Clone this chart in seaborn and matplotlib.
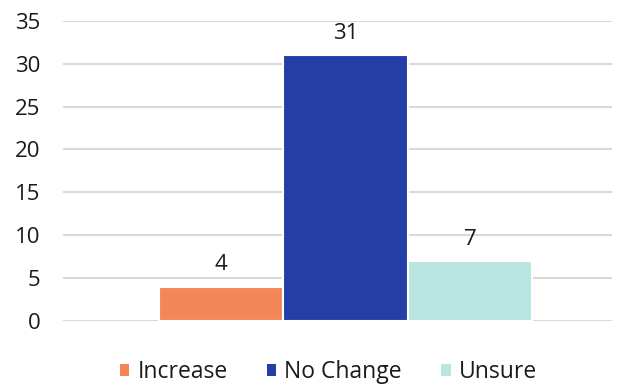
import matplotlib
matplotlib.use("Agg")
import matplotlib.pyplot as plt
import seaborn as sns
import pandas as pd
from matplotlib.patches import Patch

categories = ["Increase", "No Change", "Unsure"]
values = [4, 31, 7]
colors = ["#F4875A", "#253DA6", "#B9E6E0"]
y_ticks = [0, 5, 10, 15, 20, 25, 30, 35]

df = pd.DataFrame({"group": ["All"] * len(categories), "response": categories, "count": values})

sns.set_theme(style="white")
plt.rcParams["font.family"] = ["Open Sans", "DejaVu Sans"]

fig = plt.figure(figsize=(6.23, 3.88), dpi=100)
ax = fig.add_axes([0.101, 0.173, 0.882, 0.773])

sns.barplot(data=df, x="group", y="count", hue="response", hue_order=categories,
            palette=colors, width=0.68, dodge=True, ax=ax, legend=False,
            edgecolor="white", linewidth=1.5, saturation=1, errorbar=None)

for container in ax.containers:
    ax.bar_label(container, fmt="%d", padding=8, fontsize=16, color="#1a1a1a")

ax.set_ylim(0, 35)
ax.set_xlim(-0.514, 0.486)
ax.set_yticks(y_ticks)
ax.set_yticklabels([str(t) for t in y_ticks], fontsize=16, color="#1a1a1a")
ax.tick_params(axis="y", length=0, pad=16)
ax.set_xticks([])
ax.set_xlabel("")
ax.set_ylabel("")
ax.yaxis.grid(True, color="#d9d9d9", linewidth=1.5)
ax.set_axisbelow(True)
for s in ax.spines.values():
    s.set_visible(False)

handles = [Patch(facecolor=c, edgecolor="none") for c in colors]
fig.legend(handles, categories, loc="center", bbox_to_anchor=(0.527, 0.04), ncol=3,
           frameon=False, fontsize=16.5, handlelength=0.42, handleheight=0.42,
           handletextpad=0.35, columnspacing=1.7, labelcolor="#1a1a1a")

fig.savefig("out.png", dpi=100)
